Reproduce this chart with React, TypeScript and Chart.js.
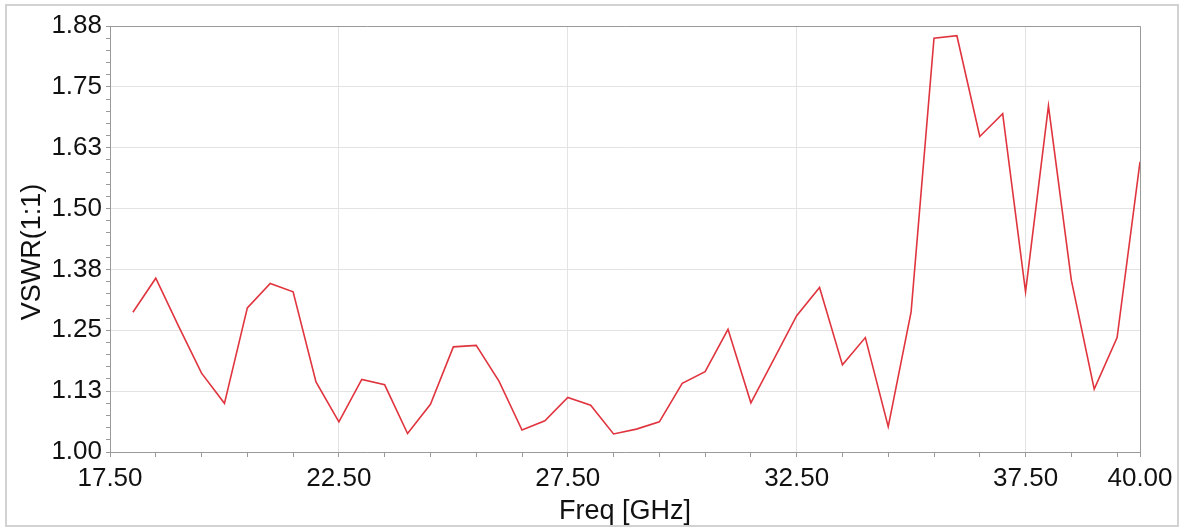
import React, { useEffect, useRef } from 'react';
import { Chart, registerables } from 'chart.js';

Chart.register(...registerables);

// ---- data ----
const freqGHz = [
  18.0, 18.5, 19.0, 19.5, 20.0, 20.5, 21.0, 21.5, 22.0, 22.5,
  23.0, 23.5, 24.0, 24.5, 25.0, 25.5, 26.0, 26.5, 27.0, 27.5,
  28.0, 28.5, 29.0, 29.5, 30.0, 30.5, 31.0, 31.5, 32.0, 32.5,
  33.0, 33.5, 34.0, 34.5, 35.0, 35.5, 36.0, 36.5, 37.0, 37.5,
  38.0, 38.5, 39.0, 39.5, 40.0,
];
const vswr = [
  1.287, 1.357, 1.258, 1.162, 1.100, 1.296, 1.346, 1.329, 1.144, 1.062,
  1.149, 1.138, 1.038, 1.098, 1.216, 1.219, 1.145, 1.045, 1.064, 1.112,
  1.096, 1.037, 1.047, 1.062, 1.141, 1.165, 1.252, 1.101, 1.190, 1.280,
  1.338, 1.179, 1.235, 1.052, 1.288, 1.850, 1.855, 1.648, 1.695, 1.329,
  1.711, 1.353, 1.129, 1.235, 1.596,
];

const xMajorTicks = [17.5, 22.5, 27.5, 32.5, 37.5, 40.0];
const xTickLabels = ['17.50', '22.50', '27.50', '32.50', '37.50', '40.00'];
const xMinorTicks = [
  18.5, 19.5, 20.5, 21.5, 23.5, 24.5, 25.5, 26.5, 28.5, 29.5,
  30.5, 31.5, 33.5, 34.5, 35.5, 36.5, 38.5, 39.5,
];
const yMajorTicks = [1.0, 1.125, 1.25, 1.375, 1.5, 1.625, 1.75, 1.875];
const yTickLabels = ['1.00', '1.13', '1.25', '1.38', '1.50', '1.63', '1.75', '1.88'];
const yMinorStep = 0.025;

const xTitle = 'Freq [GHz]';
const yTitle = 'VSWR(1:1)';

const FONT = "'Liberation Sans', Arial, sans-serif";
const TICK_SIZE = 26;
const TITLE_SIZE = 27;
const GRID = '#e3e3e3';
const AXIS = '#9a9a9a';
const LINE = '#e0353f';

const findIdx = (arr: number[], v: number) =>
  arr.findIndex((a) => Math.abs(a - v) < 1e-6);

const decorPlugin = {
  id: 'decor',
  beforeDraw(chart: any) {
    const ctx = chart.ctx;
    ctx.save();
    ctx.fillStyle = '#ffffff';
    ctx.fillRect(0, 0, chart.width, chart.height);
    ctx.strokeStyle = '#d2d2d2';
    ctx.lineWidth = 2;
    ctx.strokeRect(6, 5, 1172, 521);
    ctx.restore();
  },
  afterDraw(chart: any) {
    const ctx = chart.ctx;
    const a = chart.chartArea;
    ctx.save();
    ctx.strokeStyle = AXIS;
    ctx.lineWidth = 1;
    const top = Math.round(a.top) + 0.5;
    const right = Math.round(a.right) + 0.5;
    ctx.beginPath();
    ctx.moveTo(a.left, top);
    ctx.lineTo(right, top);
    ctx.lineTo(right, a.bottom);
    ctx.stroke();
    // y axis title
    ctx.translate(33, 252);
    ctx.rotate(-Math.PI / 2);
    ctx.fillStyle = '#111111';
    ctx.font = `${TITLE_SIZE}px ${FONT}`;
    ctx.textAlign = 'center';
    ctx.textBaseline = 'middle';
    ctx.fillText(yTitle, 0, 0);
    ctx.restore();
  },
};

export default function App() {
  const ref = useRef<HTMLCanvasElement | null>(null);

  useEffect(() => {
    document.body.style.margin = '0';
    const canvas = ref.current;
    if (!canvas) return;

    const yAll: number[] = [];
    for (let i = 0; i <= 35; i++) yAll.push(1 + i * yMinorStep);
    const xAll = [...xMajorTicks, ...xMinorTicks].sort((a, b) => a - b);

    const chart = new Chart(canvas, {
      type: 'line',
      data: {
        datasets: [
          {
            data: freqGHz.map((f, i) => ({ x: f, y: vswr[i] })),
            borderColor: LINE,
            borderWidth: 1.6,
            pointRadius: 0,
            tension: 0,
            fill: false,
          },
        ],
      },
      options: {
        responsive: false,
        animation: false,
        events: [],
        layout: { padding: { left: 0, right: 44, top: 26, bottom: 0 } },
        plugins: {
          legend: { display: false },
          tooltip: { enabled: false },
          title: { display: false },
        },
        scales: {
          x: {
            type: 'linear',
            min: 17.5,
            max: 40,
            afterBuildTicks: (scale: any) => {
              scale.ticks = xAll.map((v) => ({ value: v }));
            },
            afterFit: (scale: any) => {
              scale.height = 77;
            },
            ticks: {
              autoSkip: false,
              maxRotation: 0,
              minRotation: 0,
              padding: 6,
              color: '#111111',
              font: { family: FONT, size: TICK_SIZE },
              callback: (v: any) => {
                const i = findIdx(xMajorTicks, Number(v));
                return i >= 0 ? xTickLabels[i] : '';
              },
            },
            grid: {
              color: (c: any) =>
                c.tick && findIdx(xMajorTicks, c.tick.value) >= 0 ? GRID : 'rgba(0,0,0,0)',
              tickColor: AXIS,
              tickLength: 5,
              drawTicks: true,
              lineWidth: 1,
            },
            border: { display: true, color: AXIS, width: 1 },
            title: {
              display: true,
              text: xTitle,
              color: '#111111',
              font: { family: FONT, size: TITLE_SIZE },
              padding: { top: 0, bottom: 1 },
            },
          },
          y: {
            type: 'linear',
            min: 1,
            max: 1.875,
            afterBuildTicks: (scale: any) => {
              scale.ticks = yAll.map((v) => ({ value: v }));
            },
            afterFit: (scale: any) => {
              scale.width = 110;
            },
            ticks: {
              autoSkip: false,
              padding: 4,
              color: '#111111',
              font: { family: FONT, size: TICK_SIZE },
              callback: (v: any) => {
                const i = findIdx(yMajorTicks, Number(v));
                return i >= 0 ? yTickLabels[i] : '';
              },
            },
            grid: {
              color: (c: any) =>
                c.tick && findIdx(yMajorTicks, c.tick.value) >= 0 ? GRID : 'rgba(0,0,0,0)',
              tickColor: AXIS,
              tickLength: 4,
              drawTicks: true,
              lineWidth: 1,
            },
            border: { display: true, color: AXIS, width: 1 },
            title: { display: false },
          },
        },
      },
      plugins: [decorPlugin],
    } as any);

    return () => chart.destroy();
  }, []);

  return (
    <div style={{ width: 1184, height: 529, position: 'relative' }}>
      <canvas ref={ref} width={1184} height={529} style={{ display: 'block' }} />
    </div>
  );
}
